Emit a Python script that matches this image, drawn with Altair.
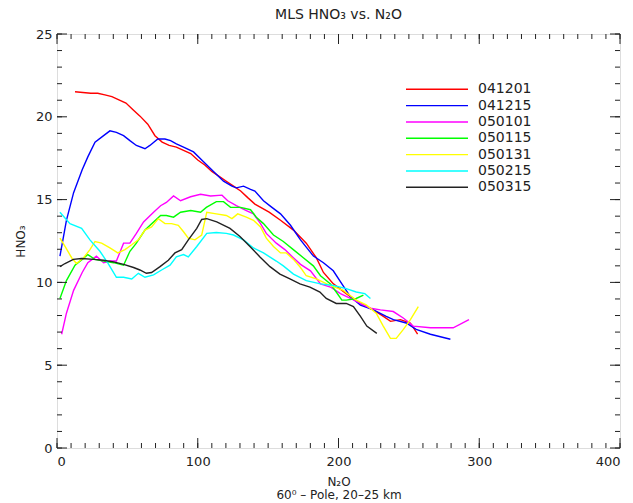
import altair as alt
import pandas as pd

names = ["041201", "041215", "050101", "050115", "050131", "050215", "050315"]
colors = ["#ff0000", "#0000ff", "#ff00ff", "#00ff00", "#ffff00", "#00ffff", "#222222"]

red_x = [12.8, 24, 29, 34, 39, 44, 49, 54, 59, 64.5, 69.6, 74.7, 79.7, 84.8, 89.9, 95, 100, 105, 110, 115.2,
         120.3, 125.4, 130.5, 135.5, 140.6, 150.7, 158.8, 168, 177.1, 184.2, 189.3, 196.4, 205.5, 215.6, 224.8,
         231.9, 237, 244, 251, 256.2]
red_y = [21.51, 21.42, 21.42, 21.32, 21.22, 21.02, 20.83, 20.43, 20.04, 19.55, 18.86, 18.47, 18.27, 18.17, 17.97,
         17.78, 17.39, 17.09, 16.7, 16.4, 16.11, 15.81, 15.52, 15.12, 14.73, 14.24, 13.75, 13.16, 12.37, 11.49,
         10.6, 9.91, 9.32, 8.73, 8.34, 7.95, 7.65, 7.75, 7.55, 6.87]

blue_x = [2.1, 6.7, 11.8, 17.9, 21.9, 27, 33.1, 37.6, 42.2, 47.3, 51.8, 56.4, 62.5, 66, 71.6, 76.7, 80.7, 84.8,
          89.9, 97, 104.1, 111.2, 118.3, 124.3, 127.4, 132.5, 137.5, 140.6, 146.7, 152.7, 158.8, 165.9, 173,
          182.2, 189.3, 196.3, 202.4, 208.5, 215.6, 224.8, 233.9, 239, 248.1, 255.2, 265.3, 279.5]
blue_y = [11.59, 13.75, 15.42, 16.8, 17.58, 18.47, 18.86, 19.15, 19.06, 18.86, 18.56, 18.27, 18.07, 18.27, 18.66,
          18.66, 18.56, 18.37, 18.17, 17.88, 17.29, 16.7, 16.11, 15.81, 15.71, 15.81, 15.62, 15.52, 14.93, 14.53,
          14.14, 13.45, 12.57, 11.59, 11.19, 10.7, 9.91, 9.13, 8.63, 8.34, 7.95, 7.75, 7.55, 7.16, 6.87, 6.57]

mag_x = [3.3, 6.7, 11.8, 17.9, 21.9, 28, 33.1, 37.6, 42.2, 47.3, 51.8, 56.4, 61.5, 68.6, 73.6, 77.7, 82.8, 87.8,
         94.9, 102, 109.1, 117.2, 121.3, 127.4, 134.5, 139.6, 144.6, 148.7, 155.8, 161.9, 167.9, 173, 180.1,
         187.2, 194.3, 201.4, 208.5, 215.6, 222.7, 229.8, 238.9, 246, 253.1, 265.3, 281.5, 292.7]
mag_y = [6.87, 8.14, 9.52, 10.6, 11.19, 11.58, 11.19, 11.29, 11.29, 12.37, 12.37, 12.96, 13.65, 14.24, 14.63,
         14.83, 15.22, 14.93, 15.17, 15.32, 15.22, 15.27, 14.93, 14.63, 14.34, 14.14, 13.55, 12.96, 12.37, 11.98,
         11.49, 11.09, 10.7, 9.91, 9.72, 9.32, 9.03, 8.73, 8.44, 8.34, 8.24, 7.85, 7.36, 7.26, 7.26, 7.75]

grn_x = [2.1, 6.7, 12.8, 17.9, 21.9, 27, 33.1, 40.2, 47.3, 51.8, 56.4, 62.5, 68.6, 73.6, 77.7, 82.8, 87.8, 95,
         102, 106.1, 113.2, 118.3, 123.3, 130.4, 137.5, 141.6, 146.7, 153.8, 160.8, 167.9, 175, 182.1, 187.2,
         194.3, 198.4, 202.4, 205.5, 212.6, 217.7]
grn_y = [9.03, 10.11, 11.04, 11.39, 11.68, 11.39, 11.29, 11.19, 11.04, 11.88, 12.37, 13.16, 13.65, 14.04, 14.04,
         13.94, 14.24, 14.34, 14.24, 14.53, 14.88, 14.88, 14.53, 14.53, 14.39, 13.94, 13.55, 12.86, 12.47, 11.98,
         11.49, 11.0, 10.4, 9.91, 9.42, 8.93, 8.93, 9.03, 9.23]

yel_x = [2.1, 5.7, 10.4, 13.8, 18.9, 23.4, 27, 31.7, 37.6, 43.2, 48.3, 53.1, 57.8, 62.5, 67.2, 72, 76.7, 81.4,
         86.2, 89.9, 93.3, 98, 102.8, 106.4, 113.2, 120.3, 124.3, 128.4, 134.5, 139.6, 144.6, 148.7, 153.8,
         158.8, 162.9, 168, 173, 177.1, 184.2, 194.3, 203.4, 212.6, 219.7, 226.8, 231.8, 236.9, 241, 246.1,
         251.1, 256.7]
yel_y = [12.67, 12.17, 11.49, 11.14, 11.49, 11.98, 12.47, 12.37, 12.08, 11.78, 11.98, 12.27, 12.57, 13.16, 13.35,
         13.85, 13.55, 13.55, 13.45, 13.06, 12.67, 12.57, 12.86, 14.24, 14.14, 14.04, 13.85, 14.14, 13.94, 13.75,
         13.35, 12.67, 12.17, 11.78, 11.78, 11.39, 10.9, 10.4, 10.21, 9.81, 9.52, 8.93, 8.64, 8.14, 7.36, 6.62,
         6.62, 7.16, 7.75, 8.54]

cyn_x = [2.1, 9.2, 17.5, 23.4, 30.5, 36.4, 42.2, 47.3, 53.1, 57.8, 62.5, 68.6, 74.3, 80.3, 84.8, 89.9, 93.3,
         99.3, 106.4, 113.2, 120.3, 125.4, 132.5, 139.6, 146.7, 155.8, 160.8, 168, 177.1, 187.2, 196.4, 205.5,
         212.6, 218.7, 222.7]
cyn_y = [14.24, 13.55, 13.26, 12.57, 11.88, 11.14, 10.31, 10.31, 10.21, 10.55, 10.31, 10.45, 10.75, 11.04, 11.54,
         11.68, 11.54, 12.17, 12.96, 13.01, 12.96, 12.86, 12.57, 12.08, 11.78, 11.29, 11.0, 10.5, 10.11, 9.91,
         9.81, 9.62, 9.42, 9.32, 9.03]

blk_x = [2.1, 5.7, 11.6, 17.5, 26, 33.1, 40.2, 47.3, 54.4, 58.9, 63.5, 67.2, 73.2, 79.1, 83.8, 88.6, 93.3, 99.3,
         102.8, 106.4, 113.5, 122.9, 130, 137.1, 144.2, 151.3, 158.4, 165.5, 172.6, 179.7, 186.8, 191.3, 198.4,
         205.5, 210.6, 215.6, 220.1, 227.2]
blk_y = [10.95, 11.14, 11.39, 11.44, 11.39, 11.34, 11.24, 11.09, 10.9, 10.75, 10.55, 10.6, 10.95, 11.34, 11.78,
         11.98, 12.57, 13.26, 13.8, 13.85, 13.65, 13.26, 12.77, 12.17, 11.54, 10.95, 10.5, 10.21, 9.91, 9.72,
         9.42, 9.03, 8.73, 8.73, 8.54, 7.95, 7.36, 6.92]

x_major = [0, 100, 200, 300, 400]
x_minor = list(range(0, 401, 10))
y_major = [0, 5, 10, 15, 20, 25]
y_minor = list(range(0, 26, 1))

series = [(red_x, red_y), (blue_x, blue_y), (mag_x, mag_y), (grn_x, grn_y),
          (yel_x, yel_y), (cyn_x, cyn_y), (blk_x, blk_y)]
rows = []
for name, (xs, ys) in zip(names, series):
    for i, (a, b) in enumerate(zip(xs, ys)):
        rows.append({"series": name, "N2O": a, "HNO3": b, "i": i})
df = pd.DataFrame(rows)

W, H = 563, 414
FONT = "DejaVu Sans"
MAJ, MIN = 10, 5
INK = "#222222"

xscale = alt.Scale(domain=[0, 400], nice=False, zero=False)
yscale = alt.Scale(domain=[0, 25], nice=False, zero=False)
cscale = alt.Scale(domain=names, range=colors)

xaxis = alt.Axis(values=x_major, ticks=False, domain=False, grid=False, labelPadding=7,
                 labelFontSize=13, labelFont=FONT, labelColor=INK,
                 title=["N₂O", "60⁰ – Pole, 20–25 km"], titleFont=FONT, titleFontSize=12,
                 titleFontWeight="normal", titleColor=INK, titlePadding=8, titleLineHeight=13)
yaxis = alt.Axis(values=y_major, ticks=False, domain=False, grid=False, labelPadding=5,
                 labelFontSize=13, labelFont=FONT, labelColor=INK,
                 title="HNO₃", titleFont=FONT, titleFontSize=12, titleFontWeight="normal",
                 titleColor=INK, titlePadding=8)

lines = alt.Chart(df).mark_line(strokeWidth=1.4, clip=True).encode(
    x=alt.X("N2O:Q", scale=xscale, axis=xaxis),
    y=alt.Y("HNO3:Q", scale=yscale, axis=yaxis),
    color=alt.Color("series:N", scale=cscale, legend=None),
    order="i:Q",
)


def xticks(vals, length):
    d = pd.DataFrame({"N2O": vals})
    b = alt.Chart(d).mark_rule(color=INK, strokeWidth=1).encode(
        x=alt.X("N2O:Q", scale=xscale, axis=xaxis), y=alt.value(H), y2=alt.value(H - length))
    t = alt.Chart(d).mark_rule(color=INK, strokeWidth=1).encode(
        x=alt.X("N2O:Q", scale=xscale, axis=xaxis), y=alt.value(0), y2=alt.value(length))
    return [b, t]


def yticks(vals, length):
    d = pd.DataFrame({"HNO3": vals})
    l = alt.Chart(d).mark_rule(color=INK, strokeWidth=1).encode(
        y=alt.Y("HNO3:Q", scale=yscale, axis=yaxis), x=alt.value(0), x2=alt.value(length))
    r = alt.Chart(d).mark_rule(color=INK, strokeWidth=1).encode(
        y=alt.Y("HNO3:Q", scale=yscale, axis=yaxis), x=alt.value(W), x2=alt.value(W - length))
    return [l, r]


tick_layers = xticks(x_major, MAJ) + xticks(x_minor, MIN) + yticks(y_major, MAJ) + yticks(y_minor, MIN)

main = alt.layer(lines, *tick_layers)

leg_df = pd.DataFrame({"series": names})
leg_y = alt.Y("series:N", sort=names, axis=None,
              scale=alt.Scale(type="point", domain=names, range=[55.3, 153.3], padding=0))
leg_rule = alt.Chart(leg_df).mark_rule(strokeWidth=1.4).encode(
    y=leg_y, x=alt.value(349), x2=alt.value(411),
    color=alt.Color("series:N", scale=cscale, legend=None))
leg_text = alt.Chart(leg_df).mark_text(align="left", baseline="middle", font=FONT, fontSize=14,
                                       color=INK).encode(
    y=leg_y, x=alt.value(421), text="series:N")

chart = alt.layer(main, leg_rule, leg_text).resolve_scale(y="independent").properties(
    width=W, height=H,
    title=alt.TitleParams("MLS HNO₃ vs. N₂O", font=FONT, fontSize=14, fontWeight="normal",
                          color=INK, anchor="middle", offset=6),
    autosize=alt.AutoSizeParams(type="none"),
    padding={"left": 57, "top": 34, "right": 13, "bottom": 55},
).configure_view(stroke=INK, strokeWidth=1.2).configure(background="white")

chart.save("out.html", embed_options={"renderer": "svg", "actions": False})
